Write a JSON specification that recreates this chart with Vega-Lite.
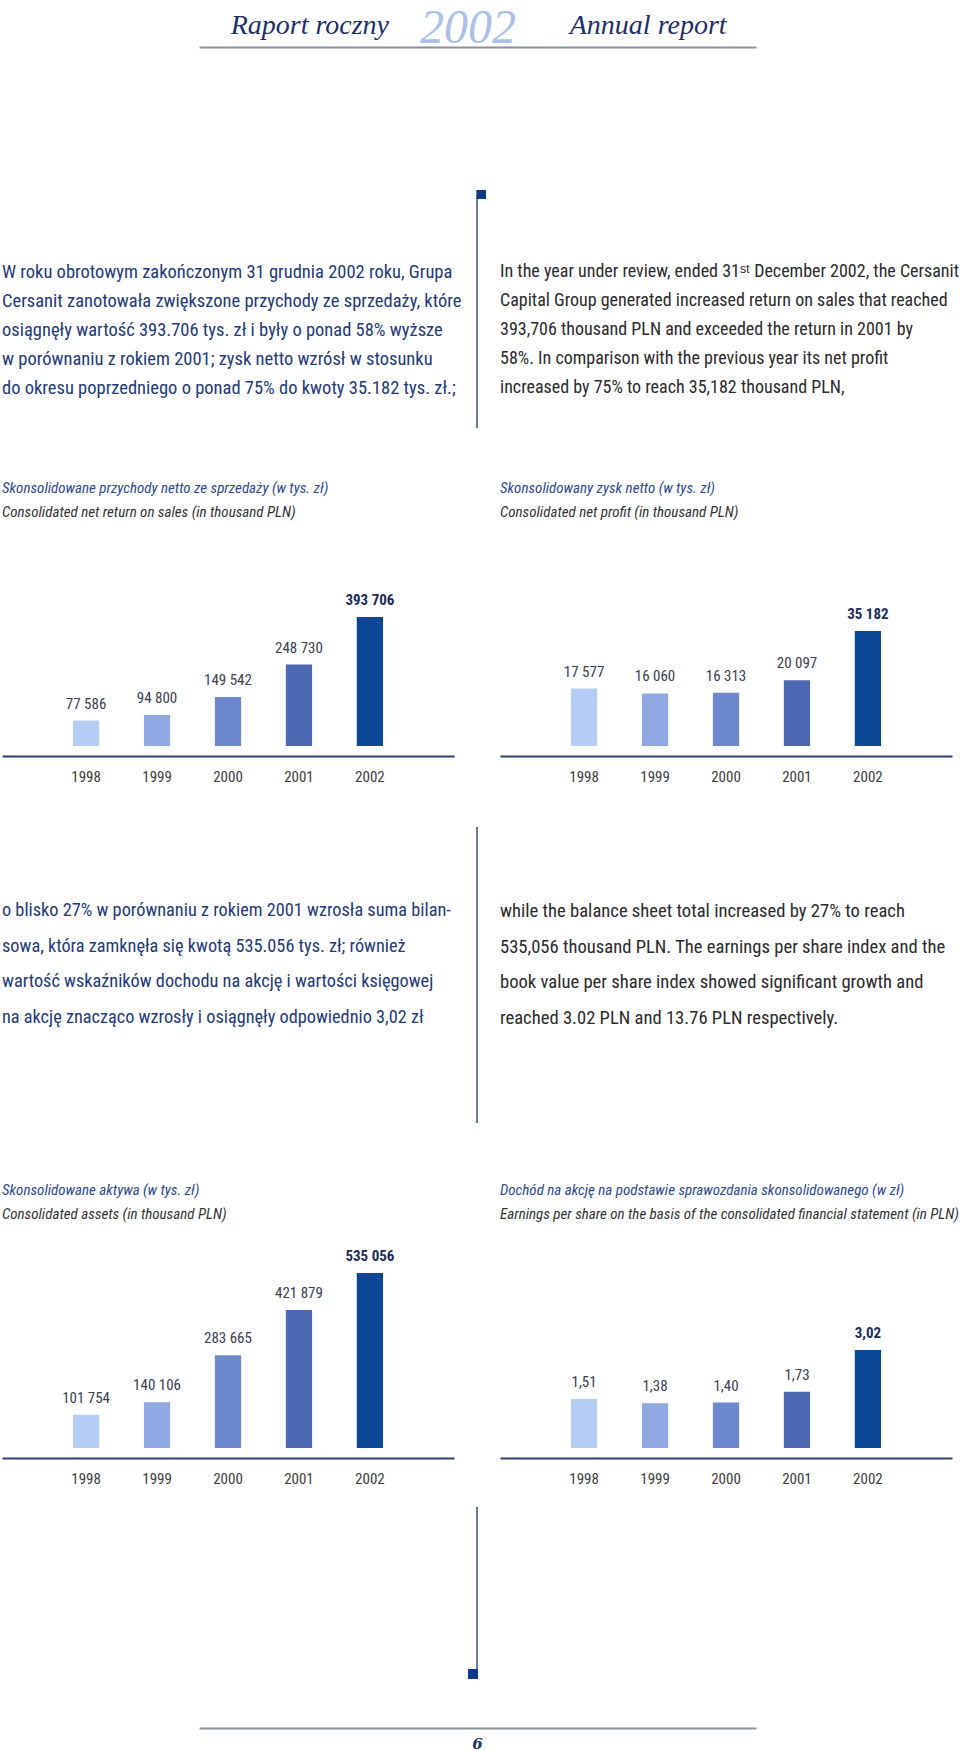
{
  "$schema": "https://vega.github.io/schema/vega-lite/v6.json",
  "background": "white",
  "autosize": {"type": "pad"},
  "padding": {"left": 2, "top": 0, "right": 0, "bottom": 0},
  "spacing": 498,
  "bounds": "flush",
  "config": {
    "view": {"stroke": null},
    "locale": {"number": {"decimal": ",", "thousands": " ", "grouping": [3], "currency": ["", ""]}},
    "axis": {"grid": false},
    "title": {"anchor": "start", "frame": "group", "font": "Liberation Sans Narrow, Roboto Condensed, sans-serif", "fontSize": 15, "fontStyle": "italic", "fontWeight": "normal", "color": "#2c4a8c",
              "subtitleFont": "Liberation Sans Narrow, Roboto Condensed, sans-serif", "subtitleFontSize": 15, "subtitleFontStyle": "italic", "subtitleColor": "#333333", "subtitlePadding": 9},
    "axisX": {"title": null, "ticks": false, "domainColor": "#2b4170", "domainWidth": 2, "offset": 10, "labelPadding": 13, "labelFontSize": 15, "labelFont": "Liberation Sans Narrow, Roboto Condensed, sans-serif", "labelColor": "#3d3d3d", "labelAngle": 0}
  },
  "datasets": {
    "sales": [{"year": 1998, "value": 77586}, {"year": 1999, "value": 94800}, {"year": 2000, "value": 149542}, {"year": 2001, "value": 248730}, {"year": 2002, "value": 393706}],
    "profit": [{"year": 1998, "value": 17577}, {"year": 1999, "value": 16060}, {"year": 2000, "value": 16313}, {"year": 2001, "value": 20097}, {"year": 2002, "value": 35182}],
    "assets": [{"year": 1998, "value": 101754}, {"year": 1999, "value": 140106}, {"year": 2000, "value": 283665}, {"year": 2001, "value": 421879}, {"year": 2002, "value": 535056}],
    "eps": [{"year": 1998, "value": 1.51}, {"year": 1999, "value": 1.38}, {"year": 2000, "value": 1.40}, {"year": 2001, "value": 1.73}, {"year": 2002, "value": 3.02}],
    "top_pl": [
      {"line": 1, "text": "W roku obrotowym zakończonym 31 grudnia 2002 roku, Grupa"},
      {"line": 2, "text": "Cersanit zanotowała zwiększone przychody ze sprzedaży, które"},
      {"line": 3, "text": "osiągnęły wartość 393.706 tys. zł i były o ponad 58% wyższe"},
      {"line": 4, "text": "w porównaniu z rokiem 2001; zysk netto wzrósł w stosunku"},
      {"line": 5, "text": "do okresu poprzedniego o ponad 75% do kwoty 35.182 tys. zł.;"}
    ],
    "top_en": [
      {"line": 1, "text": "In the year under review, ended 31ˢᵗ December 2002, the Cersanit"},
      {"line": 2, "text": "Capital Group generated increased return on sales that reached"},
      {"line": 3, "text": "393,706 thousand PLN and exceeded the return in 2001 by"},
      {"line": 4, "text": "58%. In comparison with the previous year its net profit"},
      {"line": 5, "text": "increased by 75% to reach 35,182 thousand PLN,"}
    ],
    "mid_pl": [
      {"line": 1, "text": "o blisko 27% w porównaniu z rokiem 2001 wzrosła suma bilan-"},
      {"line": 2, "text": "sowa, która zamknęła się kwotą 535.056 tys. zł; również"},
      {"line": 3, "text": "wartość wskaźników dochodu na akcję i wartości księgowej"},
      {"line": 4, "text": "na akcję znacząco wzrosły i osiągnęły odpowiednio 3,02 zł"}
    ],
    "mid_en": [
      {"line": 1, "text": "while the balance sheet total increased by 27% to reach"},
      {"line": 2, "text": "535,056 thousand PLN. The earnings per share index and the"},
      {"line": 3, "text": "book value per share index showed significant growth and"},
      {"line": 4, "text": "reached 3.02 PLN and 13.76 PLN respectively."}
    ],
    "header": [{"part": "Raport roczny"}, {"part": "2002"}, {"part": "Annual report"}],
    "footer": [{"page": "6"}],
    "one": [{"item": "decoration"}]
  },
  "hconcat": [
    {
      "spacing": 0,
      "bounds": "flush",
      "vconcat": [
        {
          "width": 475, "height": 47,
          "data": {"name": "header"},
          "encoding": {
            "x": {"field": "part", "type": "nominal", "scale": {"domain": ["Raport roczny", "2002", "Annual report"], "range": [197, 754], "paddingInner": 0, "paddingOuter": 0},
                  "axis": {"title": null, "labels": false, "ticks": false, "domainColor": "#8b909a", "domainWidth": 2, "offset": 0}},
            "text": {"field": "part"}
          },
          "layer": [
            {"transform": [{"filter": "datum.part == 'Raport roczny'"}],
             "mark": {"type": "text", "font": "Liberation Serif", "fontStyle": "italic", "fontSize": 28, "color": "#1c2f6b", "baseline": "middle", "align": "center", "xOffset": 18, "yOffset": 2}},
            {"transform": [{"filter": "datum.part == '2002'"}],
             "mark": {"type": "text", "font": "Liberation Serif", "fontStyle": "italic", "fontSize": 48, "color": "#a8c0ea", "baseline": "middle", "align": "center", "xOffset": -9.5, "yOffset": 5}},
            {"transform": [{"filter": "datum.part == 'Annual report'"}],
             "mark": {"type": "text", "font": "Liberation Serif", "fontStyle": "italic", "fontSize": 28, "color": "#1c2f6b", "baseline": "middle", "align": "center", "xOffset": -15, "yOffset": 2}}
          ]
        },
        {
          "width": 475, "height": 513,
          "layer": [
            {"data": {"name": "top_pl"},
             "mark": {"type": "text", "align": "left", "baseline": "middle", "fontSize": 18.5, "color": "#1e3a78", "font": "Liberation Sans Narrow, Roboto Condensed, Roboto, sans-serif"},
             "encoding": {
               "x": {"datum": 0, "type": "quantitative", "axis": null, "scale": {"domain": [0, 1], "nice": false, "zero": false}},
               "y": {"field": "line", "type": "quantitative", "axis": null, "scale": {"domain": [-6.759, 10.931], "reverse": true, "nice": false, "zero": false}},
               "text": {"field": "text"}
             }},
            {"data": {"name": "one"},
             "mark": {"type": "rule", "color": "#3a4f7a", "strokeWidth": 1.5},
             "encoding": {"x": {"datum": 1, "type": "quantitative"}, "y": {"datum": -1.828, "type": "quantitative"}, "y2": {"datum": 6.379}}},
            {"data": {"name": "one"},
             "mark": {"type": "square", "filled": true, "color": "#0d3b8c", "size": 81, "opacity": 1, "xOffset": 4.5},
             "encoding": {"x": {"datum": 1, "type": "quantitative"}, "y": {"datum": -1.673, "type": "quantitative"}}}
          ]
        },
        {
          "width": 452, "height": 186,
          "title": {"text": "Skonsolidowane przychody netto ze sprzedaży (w tys. zł)", "subtitle": "Consolidated net return on sales (in thousand PLN)", "offset": 40},
          "data": {"name": "sales"},
          "encoding": {
            "x": {"field": "year", "type": "ordinal", "scale": {"paddingInner": 0.63, "paddingOuter": 1.035}},
            "y": {"field": "value", "type": "quantitative", "axis": null, "scale": {"domain": [0, 567672], "nice": false}}
          },
          "layer": [
            {"mark": {"type": "bar"},
             "encoding": {"color": {"field": "year", "type": "ordinal", "legend": null, "scale": {"range": ["#b4cdf7", "#8fa9e2", "#6b89cc", "#4b69b0", "#0c4796"]}}}},
            {"transform": [{"filter": "datum.year != 2002"}],
             "mark": {"type": "text", "baseline": "middle", "dy": -17, "fontSize": 15, "font": "Liberation Sans Narrow, Roboto Condensed, sans-serif", "color": "#3b4050"},
             "encoding": {"text": {"field": "value", "type": "quantitative", "format": ",d"}}},
            {"transform": [{"filter": "datum.year == 2002"}],
             "mark": {"type": "text", "baseline": "middle", "dy": -17, "fontSize": 15, "fontWeight": "bold", "font": "Liberation Sans Narrow, Roboto Condensed, sans-serif", "color": "#1a2d5a"},
             "encoding": {"text": {"field": "value", "type": "quantitative", "format": ",d"}}}
          ]
        },
        {
          "width": 475, "height": 494,
          "layer": [
            {"data": {"name": "mid_pl"},
             "mark": {"type": "text", "align": "left", "baseline": "middle", "fontSize": 18.3, "color": "#1e3a78", "font": "Liberation Sans Narrow, Roboto Condensed, Roboto, sans-serif"},
             "encoding": {
               "x": {"datum": 0, "type": "quantitative", "axis": null, "scale": {"domain": [0, 1], "nice": false, "zero": false}},
               "y": {"field": "line", "type": "quantitative", "axis": null, "scale": {"domain": [-3.648, 10.267], "reverse": true, "nice": false, "zero": false}},
               "text": {"field": "text"}
             }},
            {"data": {"name": "one"},
             "mark": {"type": "rule", "color": "#3a4f7a", "strokeWidth": 1.5},
             "encoding": {"x": {"datum": 1, "type": "quantitative"}, "y": {"datum": -1.366, "type": "quantitative"}, "y2": {"datum": 6.972}}}
          ]
        },
        {
          "width": 452, "height": 208,
          "title": {"text": "Skonsolidowane aktywa (w tys. zł)", "subtitle": "Consolidated assets (in thousand PLN)", "offset": 18},
          "data": {"name": "assets"},
          "encoding": {
            "x": {"field": "year", "type": "ordinal", "scale": {"paddingInner": 0.63, "paddingOuter": 1.035}},
            "y": {"field": "value", "type": "quantitative", "axis": null, "scale": {"domain": [0, 635856], "nice": false}}
          },
          "layer": [
            {"mark": {"type": "bar"},
             "encoding": {"color": {"field": "year", "type": "ordinal", "legend": null, "scale": {"range": ["#b4cdf7", "#8fa9e2", "#6b89cc", "#4b69b0", "#0c4796"]}}}},
            {"transform": [{"filter": "datum.year != 2002"}],
             "mark": {"type": "text", "baseline": "middle", "dy": -17, "fontSize": 15, "font": "Liberation Sans Narrow, Roboto Condensed, sans-serif", "color": "#3b4050"},
             "encoding": {"text": {"field": "value", "type": "quantitative", "format": ",d"}}},
            {"transform": [{"filter": "datum.year == 2002"}],
             "mark": {"type": "text", "baseline": "middle", "dy": -17, "fontSize": 15, "fontWeight": "bold", "font": "Liberation Sans Narrow, Roboto Condensed, sans-serif", "color": "#1a2d5a"},
             "encoding": {"text": {"field": "value", "type": "quantitative", "format": ",d"}}}
          ]
        },
        {
          "width": 475, "height": 280,
          "data": {"name": "one"},
          "layer": [
            {"mark": {"type": "rule", "color": "#3a4f7a", "strokeWidth": 1.5},
             "encoding": {
               "x": {"datum": 1, "type": "quantitative", "axis": null, "scale": {"domain": [0, 1], "nice": false, "zero": false}},
               "y": {"datum": 2.034, "type": "quantitative", "axis": null, "scale": {"domain": [0, 9.655], "reverse": true, "nice": false, "zero": false}},
               "y2": {"datum": 7.966}}},
            {"mark": {"type": "square", "filled": true, "color": "#0d3b8c", "size": 100, "opacity": 1, "xOffset": -4},
             "encoding": {"x": {"datum": 1, "type": "quantitative"}, "y": {"datum": 7.793, "type": "quantitative"}}}
          ]
        },
        {
          "width": 475, "height": 22,
          "data": {"name": "footer"},
          "mark": {"type": "text", "font": "DejaVu Serif", "fontStyle": "italic", "fontWeight": "bold", "fontSize": 15, "color": "#1a3470", "baseline": "middle", "yOffset": 5},
          "encoding": {
            "x": {"field": "page", "type": "nominal", "scale": {"range": [197, 754]},
                  "axis": {"orient": "top", "title": null, "labels": false, "ticks": false, "domainColor": "#8b909a", "domainWidth": 2, "offset": 0}},
            "text": {"field": "page"}
          }
        }
      ]
    },
    {
      "spacing": 0,
      "bounds": "flush",
      "vconcat": [
        {
          "width": 452, "height": 560,
          "data": {"name": "top_en"},
          "mark": {"type": "text", "align": "left", "baseline": "middle", "fontSize": 18, "color": "#2b2b2b", "font": "Liberation Sans Narrow, Roboto Condensed, Roboto, sans-serif"},
          "encoding": {
            "x": {"datum": 0, "type": "quantitative", "axis": null, "scale": {"domain": [0, 1], "nice": false, "zero": false}},
            "y": {"field": "line", "type": "quantitative", "axis": null, "scale": {"domain": [-8.379, 10.931], "reverse": true, "nice": false, "zero": false}},
            "text": {"field": "text"}
          }
        },
        {
          "width": 452, "height": 186,
          "title": {"text": "Skonsolidowany zysk netto (w tys. zł)", "subtitle": "Consolidated net profit (in thousand PLN)", "offset": 40},
          "data": {"name": "profit"},
          "encoding": {
            "x": {"field": "year", "type": "ordinal", "scale": {"paddingInner": 0.63, "paddingOuter": 1.035}},
            "y": {"field": "value", "type": "quantitative", "axis": null, "scale": {"domain": [0, 56897], "nice": false}}
          },
          "layer": [
            {"mark": {"type": "bar"},
             "encoding": {"color": {"field": "year", "type": "ordinal", "legend": null, "scale": {"range": ["#b4cdf7", "#8fa9e2", "#6b89cc", "#4b69b0", "#0c4796"]}}}},
            {"transform": [{"filter": "datum.year != 2002"}],
             "mark": {"type": "text", "baseline": "middle", "dy": -17, "fontSize": 15, "font": "Liberation Sans Narrow, Roboto Condensed, sans-serif", "color": "#3b4050"},
             "encoding": {"text": {"field": "value", "type": "quantitative", "format": ",d"}}},
            {"transform": [{"filter": "datum.year == 2002"}],
             "mark": {"type": "text", "baseline": "middle", "dy": -17, "fontSize": 15, "fontWeight": "bold", "font": "Liberation Sans Narrow, Roboto Condensed, sans-serif", "color": "#1a2d5a"},
             "encoding": {"text": {"field": "value", "type": "quantitative", "format": ",d"}}}
          ]
        },
        {
          "width": 452, "height": 494,
          "data": {"name": "mid_en"},
          "mark": {"type": "text", "align": "left", "baseline": "middle", "fontSize": 18.6, "color": "#2b2b2b", "font": "Liberation Sans Narrow, Roboto Condensed, Roboto, sans-serif"},
          "encoding": {
            "x": {"datum": 0, "type": "quantitative", "axis": null, "scale": {"domain": [0, 1], "nice": false, "zero": false}},
            "y": {"field": "line", "type": "quantitative", "axis": null, "scale": {"domain": [-3.648, 10.267], "reverse": true, "nice": false, "zero": false}},
            "text": {"field": "text"}
          }
        },
        {
          "width": 452, "height": 208,
          "title": {"text": "Dochód na akcję na podstawie sprawozdania skonsolidowanego (w zł)", "subtitle": "Earnings per share on the basis of the consolidated financial statement (in PLN)", "offset": 18},
          "data": {"name": "eps"},
          "encoding": {
            "x": {"field": "year", "type": "ordinal", "scale": {"paddingInner": 0.63, "paddingOuter": 1.035}},
            "y": {"field": "value", "type": "quantitative", "axis": null, "scale": {"domain": [0, 6.41], "nice": false}}
          },
          "layer": [
            {"mark": {"type": "bar"},
             "encoding": {"color": {"field": "year", "type": "ordinal", "legend": null, "scale": {"range": ["#b4cdf7", "#8fa9e2", "#6b89cc", "#4b69b0", "#0c4796"]}}}},
            {"transform": [{"filter": "datum.year != 2002"}],
             "mark": {"type": "text", "baseline": "middle", "dy": -17, "fontSize": 15, "font": "Liberation Sans Narrow, Roboto Condensed, sans-serif", "color": "#3b4050"},
             "encoding": {"text": {"field": "value", "type": "quantitative", "format": ".2f"}}},
            {"transform": [{"filter": "datum.year == 2002"}],
             "mark": {"type": "text", "baseline": "middle", "dy": -17, "fontSize": 15, "fontWeight": "bold", "font": "Liberation Sans Narrow, Roboto Condensed, sans-serif", "color": "#1a2d5a"},
             "encoding": {"text": {"field": "value", "type": "quantitative", "format": ".2f"}}}
          ]
        }
      ]
    }
  ]
}
